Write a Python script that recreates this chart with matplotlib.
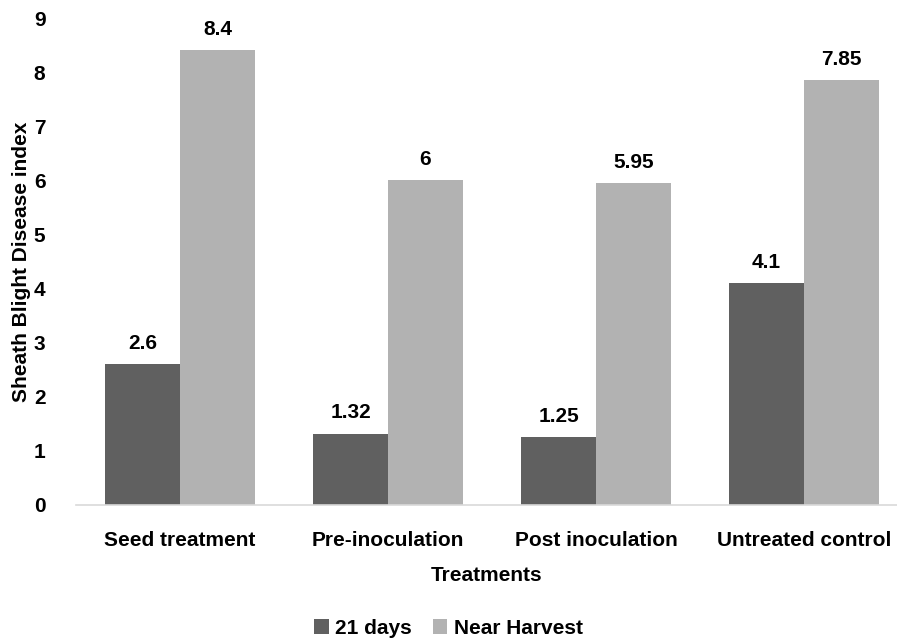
import numpy as np
import matplotlib.pyplot as plt

plt.rcParams['font.family'] = ['Liberation Sans Narrow', 'Liberation Sans', 'DejaVu Sans']
plt.rcParams['font.weight'] = 'bold'

categories = ["Seed treatment", "Pre-inoculation", "Post inoculation", "Untreated control"]
days21 = [2.6, 1.32, 1.25, 4.1]
harvest = [8.4, 6, 5.95, 7.85]
series_names = ["21 days", "Near Harvest"]
colors = ["#606060", "#b2b2b2"]

fig = plt.figure(figsize=(8.97, 6.39), dpi=100)
ax = fig.add_axes([76 / 897, 134 / 639, (897 - 76) / 897, 487 / 639])

x = np.arange(len(categories))
w = 0.36
b1 = ax.bar(x - w / 2, days21, w, color=colors[0], label=series_names[0])
b2 = ax.bar(x + w / 2, harvest, w, color=colors[1], label=series_names[1])

for bars, vals in [(b1, days21), (b2, harvest)]:
    for bar, v in zip(bars, vals):
        ax.annotate(f"{v:g}", (bar.get_x() + bar.get_width() / 2, v),
                    xytext=(0, 8), textcoords="offset points",
                    ha="center", va="bottom", fontsize=15, fontweight="bold")

ax.set_ylim(0, 9)
ax.set_xlim(-0.5, 3.447)
ax.set_yticks(range(10))
ax.set_xticks(x)
ax.set_xticklabels(categories)
ax.tick_params(axis="both", length=0, labelsize=15)
ax.tick_params(axis="x", pad=19)
ax.tick_params(axis="y", pad=22)
for s in ["top", "right", "left"]:
    ax.spines[s].set_visible(False)
ax.spines["bottom"].set_color("#d9d9d9")
ax.spines["bottom"].set_linewidth(1.2)

ax.set_xlabel("Treatments", fontsize=15, fontweight="bold", labelpad=11)
ax.set_ylabel("Sheath Blight Disease index", fontsize=15, fontweight="bold", labelpad=2)

fig.legend(loc="lower center", bbox_to_anchor=(0.5, -0.027), ncol=2, frameon=False,
           fontsize=15, handlelength=0.7, handleheight=0.7, handletextpad=0.3,
           columnspacing=1.0)

fig.savefig("out.png", dpi=100)
